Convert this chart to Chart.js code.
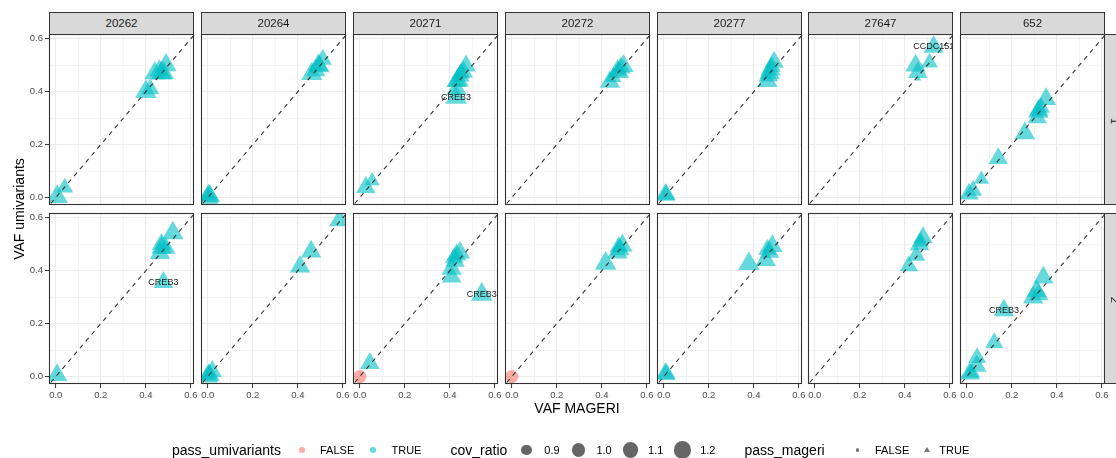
<!DOCTYPE html>
<html lang="en">
<head>
    <meta charset="UTF-8">
    <title>VAF MAGERI vs VAF umivariants</title>
    <script src="https://cdn.jsdelivr.net/npm/chart.js"></script>
    <style>
        * {
            margin: 0;
            padding: 0;
            box-sizing: border-box;
        }

        body {
            position: relative;
            width: 1116px;
            height: 458px;
            overflow: hidden;
            background: #fff;
            font-family: "Liberation Sans", Arial, sans-serif;
        }

        canvas {
            position: absolute;
        }

        .strip {
            position: absolute;
            background: #D9D9D9;
            border: 1px solid #333;
            color: #1A1A1A;
            font-size: 11.5px;
            text-align: center;
            overflow: hidden;
        }

        .txt {
            position: absolute;
            white-space: nowrap;
        }
    </style>
</head>
<body>

<script>
    // facets
    const samples = ['20262', '20264', '20271', '20272', '20277', '27647', '652'];
    const replicates = ['1', '2'];
    const axisTicks = [0, 0.1, 0.2, 0.3, 0.4, 0.5, 0.6];
    const covLegend = [0.9, 1.0, 1.1, 1.2];
    const refLine = [-0.1, 0.7];   // y = x

    // one sub-array per panel: row 1 left to right, then row 2
    const vafMageri = [
        [0.44, 0.47, 0.48, 0.49, 0.46, 0.40, 0.42, 0.006, 0.04],
        [0.511, 0.491, 0.462, 0.496, 0.48, 0.0, 0.01, 0.005],
        [0.472, 0.46, 0.438, 0.43, 0.445, 0.45, 0.43, 0.428, 0.027, 0.055],
        [0.496, 0.476, 0.47, 0.485, 0.436, 0.45],
        [0.49, 0.475, 0.46, 0.465, 0.47, 0.48, 0.007, 0.012],
        [0.528, 0.51, 0.448, 0.458, 0.458],
        [0.352, 0.318, 0.32, 0.33, 0.313, 0.258, 0.14, 0.065, 0.028, 0.01],
        [0.52, 0.47, 0.489, 0.463, 0.47, 0.478, 0.006],
        [0.585, 0.459, 0.41, 0.0, 0.01, 0.02, 0.005],
        [0.445, 0.423, 0.408, 0.408, 0.42, 0.43, 0.542, 0.045, 0.0],
        [0.0, 0.491, 0.469, 0.48, 0.475, 0.417],
        [0.378, 0.482, 0.453, 0.47, 0.46, 0.007, 0.012],
        [0.481, 0.466, 0.451, 0.418, 0.47],
        [0.34, 0.31, 0.295, 0.32, 0.165, 0.122, 0.046, 0.045, 0.013, 0.02]
    ];
    const vafUmivariants = [
        [0.47, 0.47, 0.47, 0.50, 0.48, 0.40, 0.41, 0.003, 0.038],
        [0.522, 0.50, 0.467, 0.496, 0.48, 0.0, 0.005, 0.01],
        [0.498, 0.475, 0.443, 0.44, 0.46, 0.47, 0.41, 0.378, 0.039, 0.063],
        [0.497, 0.474, 0.48, 0.49, 0.437, 0.455],
        [0.512, 0.483, 0.44, 0.46, 0.47, 0.495, 0.01, 0.012],
        [0.569, 0.51, 0.499, 0.473, 0.449],
        [0.372, 0.324, 0.33, 0.34, 0.302, 0.243, 0.148, 0.069, 0.027, 0.014],
        [0.542, 0.486, 0.485, 0.466, 0.50, 0.356, 0.006],
        [0.59, 0.472, 0.415, 0.0, 0.005, 0.02, 0.01],
        [0.468, 0.436, 0.407, 0.377, 0.45, 0.46, 0.31, 0.05, 0.0],
        [0.0, 0.495, 0.468, 0.48, 0.49, 0.427],
        [0.426, 0.493, 0.44, 0.47, 0.48, 0.009, 0.012],
        [0.525, 0.499, 0.457, 0.418, 0.51],
        [0.374, 0.323, 0.298, 0.31, 0.25, 0.128, 0.071, 0.04, 0.011, 0.015]
    ];
    const covRatio = [
        [1.09, 1.11, 1.07, 1.09, 1.04, 1.11, 1.0, 1.11, 0.96],
        [1.0, 1.07, 1.09, 1.07, 1.04, 1.11, 1.07, 1.04],
        [1.04, 1.04, 1.09, 1.07, 1.04, 1.0, 1.07, 1.11, 1.04, 0.92],
        [1.07, 1.07, 1.04, 1.04, 1.07, 0.96],
        [1.04, 1.07, 1.07, 1.04, 1.07, 1.0, 1.07, 1.0],
        [1.07, 0.96, 1.07, 1.04, 0.76],
        [1.07, 1.07, 1.04, 1.0, 1.04, 1.07, 1.04, 0.92, 1.0, 1.04],
        [1.11, 1.07, 1.04, 1.07, 1.04, 1.04, 1.07],
        [1.07, 1.07, 1.07, 1.07, 1.04, 1.04, 1.0],
        [1.07, 1.04, 1.07, 1.04, 1.0, 1.04, 1.11, 1.04, 1.0],
        [1.0, 1.07, 1.07, 1.04, 1.0, 1.11],
        [1.11, 1.07, 1.07, 1.04, 1.0, 1.07, 1.0],
        [1.04, 1.04, 1.0, 1.0, 0.96],
        [1.07, 1.07, 1.07, 1.04, 1.07, 1.0, 1.0, 1.04, 1.07, 1.0]
    ];
    // [panel, point]: pass_umivariants FALSE and pass_mageri FALSE
    const failedCalls = [[9, 8], [10, 0]];
    // [panel, point, gene]
    const geneLabels = [[2, 7, 'CREB3'], [5, 0, 'CCDC151'], [7, 5, 'CREB3'], [9, 6, 'CREB3'], [13, 4, 'CREB3']];

    const FONT = '"Liberation Sans", Arial, sans-serif';
    const GRID = '#EBEBEB';
    const INK = '#333333';
    const TEAL = 'rgba(0, 191, 196, 0.6)';
    const SALMON = 'rgba(248, 118, 109, 0.6)';

    const PANEL_W = 145;
    const PANEL_H = 171;
    const colLeft = samples.map((s, i) => Math.round(49.3 + i * 151.83));
    const rowTop = [34, 213];
    const PAD = { l: 32, r: 9, t: 6, b: 24 };
    const X_RANGE = [-0.030, 0.614];
    const Y_RANGE = [-0.028, 0.618];

    // area scale for cov_ratio (circle radius in px)
    function circleRadius(cov) {
        return Math.sqrt(Math.max(161 * (cov - 0.725), 2));
    }
    const TRI = 1.58;   // triangle vs circle radius

    const isMajor = v => Math.round(v * 10) % 2 === 0;

    function makeScale(isX, showLabels, range) {
        return {
            type: 'linear',
            min: range[0],
            max: range[1],
            afterBuildTicks: s => { s.ticks = axisTicks.map(v => ({ value: v })); },
            afterFit: s => {
                if (isX) s.height = PAD.b; else s.width = PAD.l;
                s.paddingLeft = s.paddingRight = s.paddingTop = s.paddingBottom = 0;
            },
            border: { display: false },
            grid: {
                color: GRID,
                lineWidth: c => (c.tick && isMajor(c.tick.value)) ? 1.1 : 0.55,
                drawTicks: showLabels,
                tickLength: 4,
                tickWidth: 1,
                tickColor: c => (c.tick && isMajor(c.tick.value)) ? INK : 'rgba(0,0,0,0)'
            },
            ticks: {
                display: showLabels,
                autoSkip: false,
                maxRotation: 0,
                padding: 2,
                color: '#4D4D4D',
                font: { family: FONT, size: 9.5 },
                callback: v => isMajor(v) ? v.toFixed(1) : ''
            }
        };
    }

    // labels + panel border
    function panelDecor(labels) {
        return {
            id: 'panelDecor',
            afterDatasetsDraw(chart) {
                const { ctx, chartArea: a, scales } = chart;
                ctx.save();
                ctx.beginPath();
                ctx.rect(a.left, a.top, a.right - a.left, a.bottom - a.top);
                ctx.clip();
                ctx.font = '9px ' + FONT;
                ctx.fillStyle = '#1A1A1A';
                ctx.textAlign = 'center';
                ctx.textBaseline = 'middle';
                labels.forEach(l => {
                    ctx.fillText(l.text, scales.x.getPixelForValue(l.x), scales.y.getPixelForValue(l.y));
                });
                ctx.restore();
            },
            afterDraw(chart) {
                const { ctx, chartArea: a } = chart;
                ctx.save();
                ctx.strokeStyle = INK;
                ctx.lineWidth = 1.1;
                ctx.strokeRect(a.left + 0.5, a.top + 0.5, a.right - a.left - 1, a.bottom - a.top - 1);
                ctx.restore();
            }
        };
    }

    function addDiv(cls, css, text) {
        const d = document.createElement('div');
        d.className = cls;
        Object.assign(d.style, css);
        if (text !== undefined) d.textContent = text;
        document.body.appendChild(d);
        return d;
    }

    // panels
    vafMageri.forEach((xs, p) => {
        const r = Math.floor(p / samples.length);
        const c = p % samples.length;
        const ys = vafUmivariants[p];
        const fail = xs.map((x, i) => failedCalls.some(f => f[0] === p && f[1] === i));
        const radius = xs.map((x, i) => fail[i] ? circleRadius(covRatio[p][i]) : TRI * circleRadius(covRatio[p][i]));

        const canvas = document.createElement('canvas');
        canvas.width = PAD.l + PANEL_W + PAD.r;
        canvas.height = PAD.t + PANEL_H + PAD.b;
        canvas.style.left = (colLeft[c] - PAD.l) + 'px';
        canvas.style.top = (rowTop[r] - PAD.t) + 'px';
        document.body.appendChild(canvas);

        const labels = geneLabels.filter(g => g[0] === p).map(g => ({ x: xs[g[1]], y: ys[g[1]], text: g[2] }));

        new Chart(canvas, {
            type: 'scatter',
            data: {
                datasets: [{
                    data: refLine.map(v => ({ x: v, y: v })),
                    showLine: true,
                    borderColor: INK,
                    borderWidth: 1.1,
                    borderDash: [4.5, 4.5],
                    pointRadius: 0,
                    clip: 0,
                    order: 0
                }, {
                    data: xs.map((x, i) => ({ x: x, y: ys[i] })),
                    pointStyle: fail.map(f => f ? 'circle' : 'triangle'),
                    pointRadius: radius,
                    pointHoverRadius: radius,
                    pointBackgroundColor: fail.map(f => f ? SALMON : TEAL),
                    pointBorderWidth: 0,
                    clip: 0,
                    order: 1
                }]
            },
            options: {
                responsive: false,
                animation: false,
                devicePixelRatio: 1,
                events: [],
                layout: { autoPadding: false, padding: { top: PAD.t, right: PAD.r, left: 0, bottom: 0 } },
                plugins: { legend: { display: false }, tooltip: { enabled: false } },
                scales: {
                    x: makeScale(true, r === replicates.length - 1, X_RANGE),
                    y: makeScale(false, c === 0, Y_RANGE)
                }
            },
            plugins: [panelDecor(labels)]
        });
    });

    // column strips
    samples.forEach((s, c) => {
        addDiv('strip', {
            left: colLeft[c] + 'px', top: '12px', width: PANEL_W + 'px', height: '23px', lineHeight: '21px'
        }, s);
    });

    // row strips (cut by the right edge)
    replicates.forEach((rep, r) => {
        const strip = addDiv('strip', {
            left: (colLeft[6] + PANEL_W - 1) + 'px', top: rowTop[r] + 'px', width: '23px', height: PANEL_H + 'px'
        });
        const t = document.createElement('div');
        Object.assign(t.style, {
            position: 'absolute', left: '-40px', width: '100px', top: (PANEL_H / 2 - 10) + 'px',
            height: '20px', lineHeight: '20px', textAlign: 'center', transform: 'rotate(90deg)'
        });
        t.textContent = rep;
        strip.appendChild(t);
    });

    // axis titles
    addDiv('txt', {
        left: '477px', width: '200px', top: '398px', height: '20px', lineHeight: '20px',
        textAlign: 'center', fontSize: '14px', color: '#000'
    }, 'VAF MAGERI');
    addDiv('txt', {
        left: '-81px', width: '200px', top: '199px', height: '20px', lineHeight: '20px',
        textAlign: 'center', fontSize: '14px', color: '#000', transform: 'rotate(-90deg)'
    }, 'VAF umivariants');

    // legend
    const LEG_Y = 450;
    function legText(x, text, size) {
        addDiv('txt', {
            left: x + 'px', top: (LEG_Y - 10) + 'px', height: '20px', lineHeight: '20px',
            fontSize: size + 'px', color: '#000'
        }, text);
    }
    function legDot(cx, d, color) {
        addDiv('txt', {
            left: (cx - d / 2) + 'px', top: (LEG_Y - d / 2) + 'px', width: d + 'px', height: d + 'px',
            borderRadius: '50%', background: color
        });
    }

    legText(172, 'pass_umivariants', 14);
    legDot(302, 5.5, SALMON);
    legText(320, 'FALSE', 11);
    legDot(373, 5.5, TEAL);
    legText(391.5, 'TRUE', 11);

    legText(450.5, 'cov_ratio', 14);
    const covKeyX = [526.5, 578.6, 630.3, 682.4];
    covLegend.forEach((v, i) => {
        legDot(covKeyX[i], 2 * circleRadius(v), '#666');
        legText(covKeyX[i] + 17.8, v.toFixed(1), 11);
    });

    legText(744.5, 'pass_mageri', 14);
    legDot(857.3, 3.5, '#777');
    legText(875, 'FALSE', 11);
    addDiv('txt', {
        left: '923.7px', top: (LEG_Y - 3) + 'px', width: 0, height: 0,
        borderLeft: '3px solid transparent', borderRight: '3px solid transparent', borderBottom: '5px solid #777'
    });
    legText(939.3, 'TRUE', 11);
</script>

</body>
</html>
